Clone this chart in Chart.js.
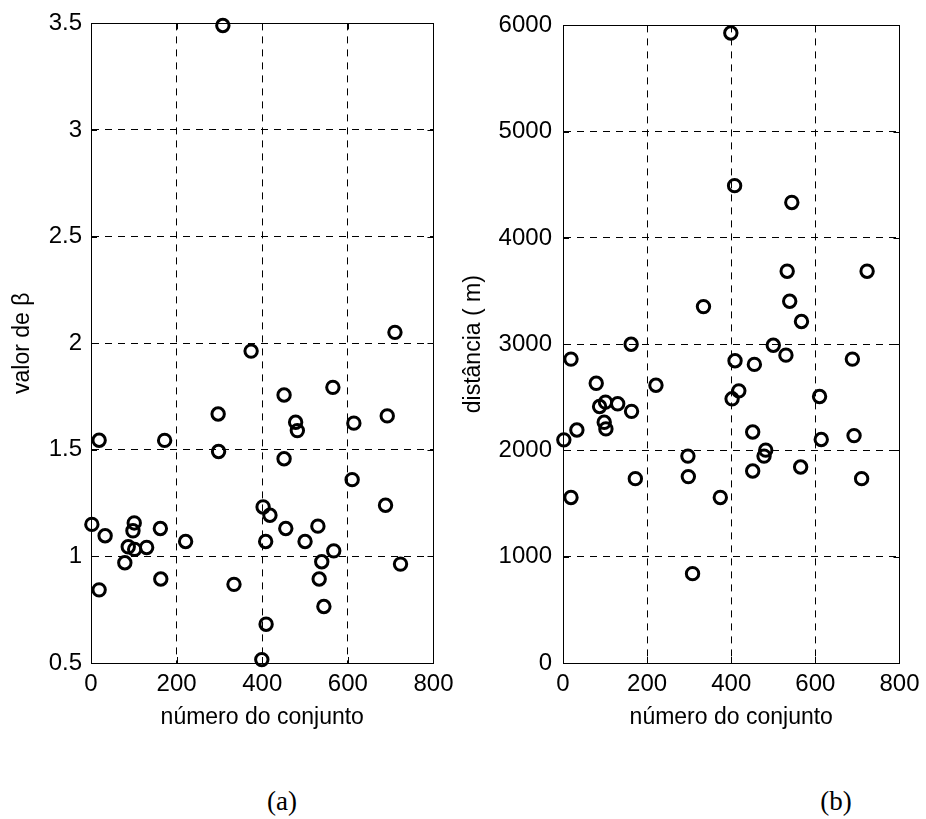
<!DOCTYPE html>
<html lang="pt">
<head>
<meta charset="utf-8">
<title>valor de beta e distância</title>
<script src="https://cdn.jsdelivr.net/npm/chart.js"></script>
<style>
  body { margin: 0; background: #fff; }
  #page { position: relative; width: 926px; height: 819px; background: #fff; }
  .box { position: absolute; top: 0; }
  .tag { position: absolute; top: 788px; font: 27px "Liberation Serif", "Times New Roman", serif; line-height: 1; transform: translateX(-50%); color: #000; }
</style>
</head>
<body>
<div id="page">
  <div class="box" style="left:0"><canvas id="chartA" width="460" height="740"></canvas></div>
  <div class="box" style="left:460px"><canvas id="chartB" width="466" height="740"></canvas></div>
  <div class="tag" style="left:282px">(a)</div>
  <div class="tag" style="left:836px">(b)</div>
</div>

<script>
// numero do conjunto (x), valor de beta e distancia (m) para cada conjunto
const conjunto = [2, 19, 19, 33, 79, 87, 98, 101, 102, 130,
  162, 163, 172, 221, 297, 298, 308, 334, 374, 399,
  402, 408, 409, 418, 451, 451, 455, 478, 482, 500,
  530, 533, 539, 544, 565, 567, 610, 614, 688, 692,
  710, 723];
const beta = [1.15, 1.545, 0.843, 1.097, 0.97, 1.045, 1.12, 1.157, 1.033, 1.042,
  1.131, 0.894, 1.544, 1.07, 1.668, 1.492, 3.49, 0.869, 1.963, 0.516,
  1.232, 1.07, 0.682, 1.193, 1.757, 1.458, 1.131, 1.629, 1.59, 1.07,
  1.142, 0.894, 0.975, 0.765, 1.793, 1.026, 1.36, 1.625, 1.24, 1.659,
  2.051, 0.964];
const distancia = [2100, 2860, 1558, 2193, 2632, 2414, 2265, 2455, 2203, 2439,
  3000, 2368, 1735, 2614, 1947, 1754, 841, 3354, 1558, 5928,
  2486, 4492, 2844, 2561, 2174, 1807, 2810, 1947, 2003, 2990,
  2897, 3687, 3404, 4334, 1844, 3214, 2508, 2103, 2860, 2140,
  1735, 3687];

const conjuntoTicks = [0, 200, 400, 600, 800];
const betaTicks = [0.5, 1, 1.5, 2, 2.5, 3, 3.5];
const distTicks = [0, 1000, 2000, 3000, 4000, 5000, 6000];

const tickFont = { family: '"Liberation Sans", Arial, sans-serif', size: 24 };
const titleFont = { family: '"Liberation Sans", Arial, sans-serif', size: 23 };

// marcas de escala para dentro, nos quatro lados (estilo matlab)
const innerTicks = {
  id: 'innerTicks',
  afterDraw(chart) {
    const { ctx, chartArea: a, scales } = chart;
    const len = 6;
    ctx.save();
    ctx.strokeStyle = '#000';
    ctx.lineWidth = 1;
    ctx.beginPath();
    scales.x.ticks.forEach(t => {
      const px = Math.round(scales.x.getPixelForValue(t.value)) + 0.5;
      ctx.moveTo(px, a.bottom); ctx.lineTo(px, a.bottom - len);
      ctx.moveTo(px, a.top); ctx.lineTo(px, a.top + len);
    });
    scales.y.ticks.forEach(t => {
      const py = Math.round(scales.y.getPixelForValue(t.value)) + 0.5;
      ctx.moveTo(a.left, py); ctx.lineTo(a.left + len, py);
      ctx.moveTo(a.right, py); ctx.lineTo(a.right - len, py);
    });
    ctx.stroke();
    ctx.restore();
  }
};

function makeChart(id, yData, yTicks, yMin, yMax, yTitle, yWidth, tickPad, titlePad, padRight) {
  const points = conjunto.map((c, i) => ({ x: c, y: yData[i] }));
  return new Chart(document.getElementById(id), {
    type: 'scatter',
    data: {
      datasets: [{
        data: points,
        pointStyle: 'circle',
        pointRadius: 6.2,
        pointHoverRadius: 6.2,
        borderWidth: 3,
        borderColor: '#000',
        backgroundColor: 'rgba(0,0,0,0)',
        clip: false
      }]
    },
    options: {
      responsive: false,
      animation: false,
      events: [],
      layout: { padding: { top: 21, right: padRight, left: 0, bottom: 0 } },
      plugins: { legend: { display: false }, tooltip: { enabled: false } },
      scales: {
        x: {
          type: 'linear', position: 'bottom', min: 0, max: 800,
          afterBuildTicks: s => { s.ticks = conjuntoTicks.map(v => ({ value: v })); },
          afterFit: s => { s.height = 77; },
          ticks: { font: tickFont, color: '#000', padding: 6.5, maxRotation: 0, callback: v => String(v) },
          grid: { color: '#000', lineWidth: 1, drawTicks: false },
          // in v4 border.dash sets the dash of the grid lines, the frame stays solid
          border: { display: true, color: '#000', width: 1, dash: [7, 6] },
          title: { display: true, text: 'número do conjunto', font: titleFont, color: '#000', padding: { top: 0, bottom: 9 } }
        },
        y: {
          type: 'linear', position: 'left', min: yMin, max: yMax,
          afterBuildTicks: s => { s.ticks = yTicks.map(v => ({ value: v })); },
          afterFit: s => { s.width = yWidth; },
          ticks: { font: tickFont, color: '#000', padding: tickPad, callback: v => String(v) },
          grid: { color: '#000', lineWidth: 1, drawTicks: false },
          border: { display: true, color: '#000', width: 1, dash: [7, 6] },
          title: { display: true, text: yTitle, font: titleFont, color: '#000', padding: { top: titlePad, bottom: 0 } }
        },
        xTop: {
          type: 'linear', position: 'top', min: 0, max: 800,
          afterFit: s => { s.height = 0; },
          ticks: { display: false },
          grid: { display: false, drawTicks: false },
          border: { display: true, color: '#000', width: 1 }
        },
        yRight: {
          type: 'linear', position: 'right', min: yMin, max: yMax,
          afterFit: s => { s.width = 0; },
          ticks: { display: false },
          grid: { display: false, drawTicks: false },
          border: { display: true, color: '#000', width: 1 }
        }
      }
    },
    plugins: [innerTicks]
  });
}

makeChart('chartA', beta, betaTicks, 0.5, 3.5, 'valor de β', 91, 9, 9, 25);
makeChart('chartB', distancia, distTicks, 0, 6000, 'distância ( m)', 103, 11, 0, 19);
</script>
</body>
</html>
